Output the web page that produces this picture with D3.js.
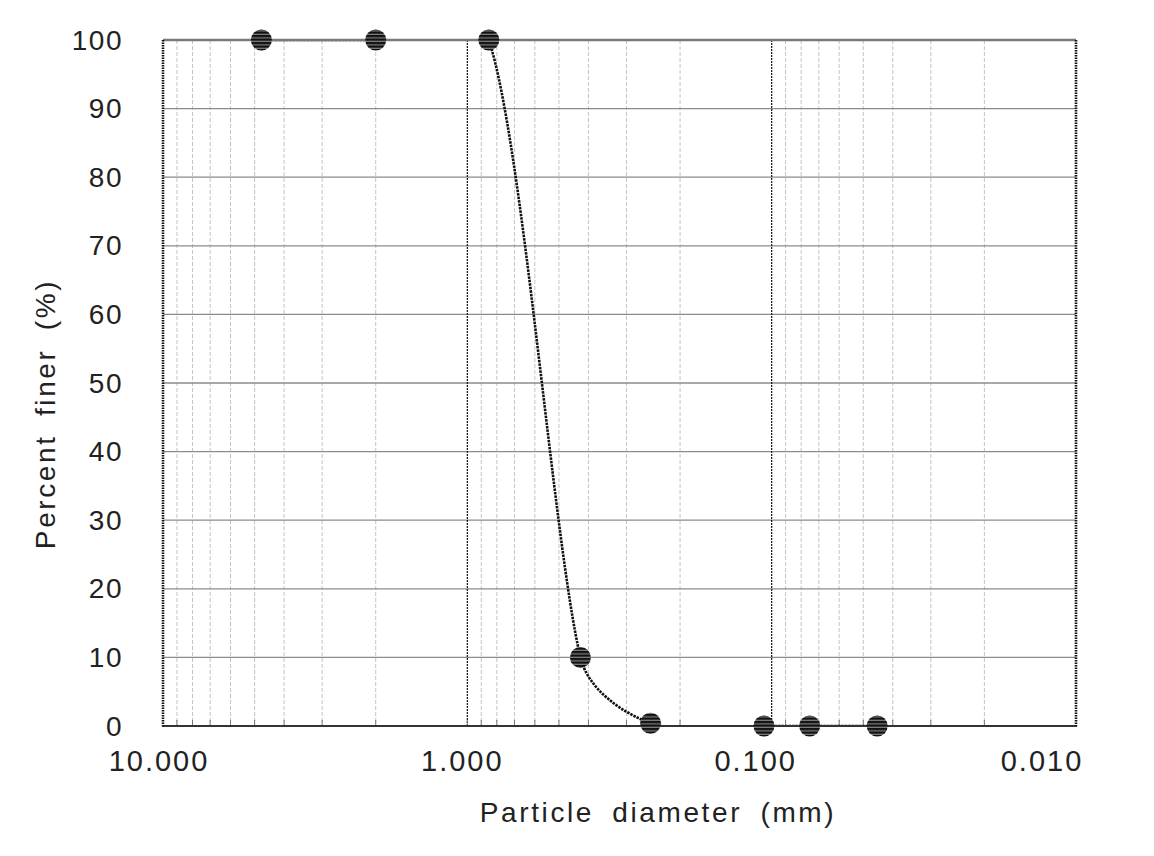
<!DOCTYPE html>
<html>
<head>
<meta charset="utf-8">
<script src="https://cdn.jsdelivr.net/npm/d3@7"></script>
<style>
  html, body { margin: 0; padding: 0; background: #fff; }
  svg { display: block; }
  text { font-family: "Liberation Sans", Arial, sans-serif; fill: #222; }
</style>
</head>
<body>
<svg id="chart" width="1154" height="856"></svg>
<script>
// ---- data ----
const diameters = [4.75, 2.0, 0.85, 0.425, 0.25, 0.106, 0.075, 0.045];
const percentFiner = [100, 100, 100, 10, 0.4, 0, 0, 0];
const xTickValues = [10, 1, 0.1, 0.01];
const xTickLabels = ["10.000", "1.000", "0.100", "0.010"];
const yTickValues = [0, 10, 20, 30, 40, 50, 60, 70, 80, 90, 100];

// ---- layout ----
const W = 1154, H = 856;
const plot = { left: 163, right: 1076, top: 40, bottom: 726 };
const xLabelNudge = [-4, -5, -16, -34];

const svg = d3.select("#chart");

const x = d3.scaleLog().domain([10, 0.01]).range([plot.left, plot.right]);
const y = d3.scaleLinear().domain([0, 100]).range([plot.bottom, plot.top]);

// stripe pattern for markers
const defs = svg.append("defs");
const pat = defs.append("pattern")
  .attr("id", "stripes").attr("patternUnits", "userSpaceOnUse")
  .attr("width", 6).attr("height", 3.5);
pat.append("rect").attr("width", 6).attr("height", 3.5).attr("fill", "#111");
pat.append("rect").attr("y", 2.3).attr("width", 6).attr("height", 1.1).attr("fill", "#8a8a8a");

defs.append("clipPath").attr("id", "plotClip")
  .append("rect")
  .attr("x", plot.left).attr("y", plot.top)
  .attr("width", plot.right - plot.left).attr("height", plot.bottom - plot.top);

// minor vertical grid lines
const minorVals = [];
[1, 0.1, 0.01].forEach(dec => {
  for (let k = 2; k <= 9; k++) minorVals.push(dec * k);
});
svg.append("g").selectAll("line").data(minorVals).join("line")
  .attr("x1", d => x(d)).attr("x2", d => x(d))
  .attr("y1", plot.top).attr("y2", plot.bottom)
  .attr("stroke", "#c4c4c4").attr("stroke-width", 1)
  .attr("stroke-dasharray", "4,2");

// horizontal grid lines
svg.append("g").selectAll("line").data(yTickValues.filter(v => v > 0 && v < 100)).join("line")
  .attr("x1", plot.left).attr("x2", plot.right)
  .attr("y1", d => y(d)).attr("y2", d => y(d))
  .attr("stroke", "#8c8c8c").attr("stroke-width", 1.3);

// major vertical grid lines (1.0, 0.1)
svg.append("g").selectAll("line").data([1, 0.1]).join("line")
  .attr("x1", d => x(d)).attr("x2", d => x(d))
  .attr("y1", plot.top).attr("y2", plot.bottom)
  .attr("stroke", "#111").attr("stroke-width", 1.2)
  .attr("stroke-dasharray", "2,1");

// small ticks on bottom axis (inside)
svg.append("g").selectAll("line").data(minorVals.concat([1, 0.1])).join("line")
  .attr("x1", d => x(d)).attr("x2", d => x(d))
  .attr("y1", plot.bottom).attr("y2", plot.bottom - 6)
  .attr("stroke", "#777").attr("stroke-width", 1);

// smooth curve (spreadsheet-style smoothed series line, clipped to the plot area)
const pts = diameters.map((d, i) => [d, percentFiner[i]]);
function smoothPath(data) {
  const P = data.map(d => [x(d[0]), y(d[1])]);
  const n = P.length;
  const dist = (a, b) => Math.hypot(b[0] - a[0], b[1] - a[1]);
  const tangents = P.map((p, i) => {
    const a = P[Math.max(0, i - 1)], b = P[Math.min(n - 1, i + 1)];
    const tx = b[0] - a[0], ty = b[1] - a[1];
    const L = Math.hypot(tx, ty) || 1;
    return { ux: tx / L, uy: ty / L, len: L };
  });
  const p = d3.path();
  p.moveTo(P[0][0], P[0][1]);
  for (let i = 0; i < n - 1; i++) {
    const seg = dist(P[i], P[i + 1]);
    const t0 = tangents[i], t1 = tangents[i + 1];
    const h0 = Math.min(t0.len / 6, seg / 3);
    const h1 = Math.min(t1.len / 6, seg / 3);
    p.bezierCurveTo(
      P[i][0] + t0.ux * h0, P[i][1] + t0.uy * h0,
      P[i + 1][0] - t1.ux * h1, P[i + 1][1] - t1.uy * h1,
      P[i + 1][0], P[i + 1][1]);
  }
  return p.toString();
}
svg.append("path")
  .attr("clip-path", "url(#plotClip)")
  .attr("d", smoothPath(pts))
  .attr("fill", "none").attr("stroke", "#111").attr("stroke-width", 2.6)
  .attr("stroke-dasharray", "2.5,1");

// frame
svg.append("line").attr("x1", plot.left).attr("x2", plot.right)
  .attr("y1", plot.top).attr("y2", plot.top)
  .attr("stroke", "#7a7a7a").attr("stroke-width", 2.5);
svg.append("line").attr("x1", plot.left - 1).attr("x2", plot.right + 1)
  .attr("y1", plot.bottom).attr("y2", plot.bottom)
  .attr("stroke", "#333").attr("stroke-width", 2.2);
[plot.left, plot.right].forEach(xx => {
  svg.append("line").attr("x1", xx).attr("x2", xx)
    .attr("y1", plot.top).attr("y2", plot.bottom)
    .attr("stroke", "#111").attr("stroke-width", 2.6)
    .attr("stroke-dasharray", "1.5,1");
});

// y tick labels
svg.append("g").selectAll("text").data(yTickValues).join("text")
  .attr("x", plot.left - 40).attr("y", d => y(d))
  .attr("text-anchor", "end").attr("dominant-baseline", "central")
  .attr("font-size", 28).attr("letter-spacing", 1.5)
  .text(d => d);

// x tick labels
svg.append("g").selectAll("text").data(xTickValues).join("text")
  .attr("x", (d, i) => x(d) + xLabelNudge[i]).attr("y", plot.bottom + 35)
  .attr("text-anchor", "middle").attr("dominant-baseline", "central")
  .attr("font-size", 29).attr("letter-spacing", 2)
  .text((d, i) => xTickLabels[i]);

// axis titles
svg.append("text")
  .attr("x", 658).attr("y", 812)
  .attr("text-anchor", "middle").attr("dominant-baseline", "central")
  .attr("font-size", 28).attr("letter-spacing", 2.6).attr("word-spacing", 8)
  .text("Particle diameter (mm)");
svg.append("text")
  .attr("transform", "translate(45,414) rotate(-90)")
  .attr("text-anchor", "middle").attr("dominant-baseline", "central")
  .attr("font-size", 28).attr("letter-spacing", 2.6).attr("word-spacing", 8)
  .text("Percent finer (%)");

// markers
svg.append("g").selectAll("circle").data(pts).join("circle")
  .attr("cx", d => x(d[0])).attr("cy", d => y(d[1]))
  .attr("r", 10.5)
  .attr("fill", "url(#stripes)");
</script>
</body>
</html>
